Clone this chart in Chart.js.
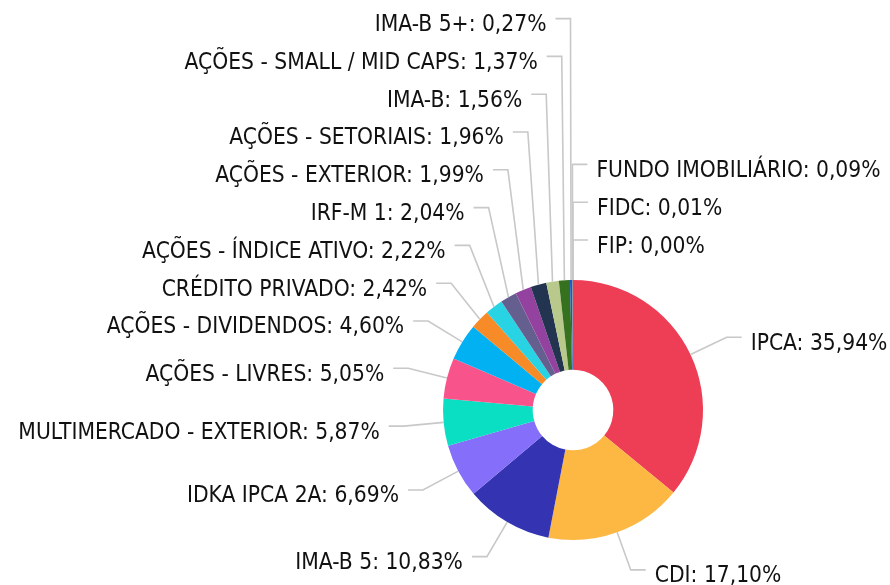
<!DOCTYPE html>
<html>
<head>
<meta charset="utf-8">
<script src="https://cdn.jsdelivr.net/npm/chart.js@4"></script>
<style>
  html, body { margin: 0; padding: 0; background: #ffffff; }
  #wrap { width: 890px; height: 585px; position: relative; }
</style>
</head>
<body>
<div id="wrap"><canvas id="c" width="890" height="585"></canvas></div>
<script>
const categories = [
  "IPCA", "CDI", "IMA-B 5", "IDKA IPCA 2A", "MULTIMERCADO - EXTERIOR",
  "AÇÕES - LIVRES", "AÇÕES - DIVIDENDOS", "CRÉDITO PRIVADO", "AÇÕES - ÍNDICE ATIVO",
  "IRF-M 1", "AÇÕES - EXTERIOR", "AÇÕES - SETORIAIS", "IMA-B",
  "AÇÕES - SMALL / MID CAPS", "IMA-B 5+", "FUNDO IMOBILIÁRIO", "FIDC", "FIP"
];
const values = [
  35.94, 17.10, 10.83, 6.69, 5.87,
  5.05, 4.60, 2.42, 2.22,
  2.04, 1.99, 1.96, 1.56,
  1.37, 0.27, 0.09, 0.01, 0.00
];
const colors = [
  "#EE3E55", "#FDB843", "#3434B2", "#846EFA", "#0ADFC3",
  "#F9538B", "#02B1F2", "#F68B27", "#28D4E3",
  "#655F90", "#93439F", "#22344F", "#B9C98C",
  "#35711F", "#1457D6", "#7A7A7A", "#999999", "#BBBBBB"
];

const FONT = '22.6px "DejaVu Sans Condensed", "DejaVu Sans", sans-serif';

function fmt(v) { return v.toFixed(2).replace('.', ',') + '%'; }

const outsideLabels = {
  id: 'outsideLabels',
  afterDatasetsDraw(chart) {
    const ctx = chart.ctx;
    const meta = chart.getDatasetMeta(0);
    const items = meta.data.map((arc, i) => {
      const p = arc.getProps(['x', 'y', 'startAngle', 'endAngle', 'outerRadius'], true);
      const mid = (p.startAngle + p.endAngle) / 2;
      const R = p.outerRadius;
      const Rl = R + 40;
      let t = (mid + Math.PI / 2) * 180 / Math.PI; // degrees clockwise from top
      t = ((t % 360) + 360) % 360;
      const right = Math.cos(mid) > -0.006;
      return {
        i, mid, cx: p.x, cy: p.y, R, right, t,
        ex: p.x + R * Math.cos(mid), ey: p.y + R * Math.sin(mid),
        lx: p.x + Rl * Math.cos(mid), ly: p.y + Rl * Math.sin(mid)
      };
    });
    const spacing = 37.8;
    const rightItems = items.filter(d => d.right);
    rightItems.sort((a, b) => {
      const ka = a.t > 180 ? a.t - 360 : a.t;
      const kb = b.t > 180 ? b.t - 360 : b.t;
      return kb - ka;
    });
    const leftItems = items.filter(d => !d.right).sort((a, b) => a.t - b.t);
    [rightItems, leftItems].forEach(list => {
      let prev = null;
      list.forEach(d => {
        if (prev !== null) d.ly = Math.min(d.ly, prev - spacing);
        prev = d.ly;
      });
    });
    ctx.save();
    ctx.strokeStyle = '#c8c8c8';
    ctx.lineWidth = 1.6;
    ctx.font = FONT;
    ctx.fillStyle = '#111111';
    ctx.textBaseline = 'alphabetic';
    items.forEach(d => {
      const dir = d.right ? 1 : -1;
      ctx.beginPath();
      ctx.moveTo(d.ex, d.ey);
      ctx.lineTo(d.lx, d.ly);
      ctx.lineTo(d.lx + dir * 15, d.ly);
      ctx.stroke();
      ctx.textAlign = d.right ? 'left' : 'right';
      ctx.fillText(categories[d.i] + ': ' + fmt(values[d.i]), d.lx + dir * 24, d.ly + 12.5);
    });
    ctx.restore();
  }
};

new Chart(document.getElementById('c'), {
  type: 'doughnut',
  data: {
    labels: categories,
    datasets: [{
      data: values,
      backgroundColor: colors,
      borderWidth: 0,
      hoverOffset: 0
    }]
  },
  options: {
    responsive: false,
    animation: false,
    cutout: '31%',
    layout: { padding: { left: 443, top: 280, right: 187, bottom: 45 } },
    plugins: {
      legend: { display: false },
      tooltip: { enabled: false },
      title: { display: false }
    }
  },
  plugins: [outsideLabels]
});
</script>
</body>
</html>
